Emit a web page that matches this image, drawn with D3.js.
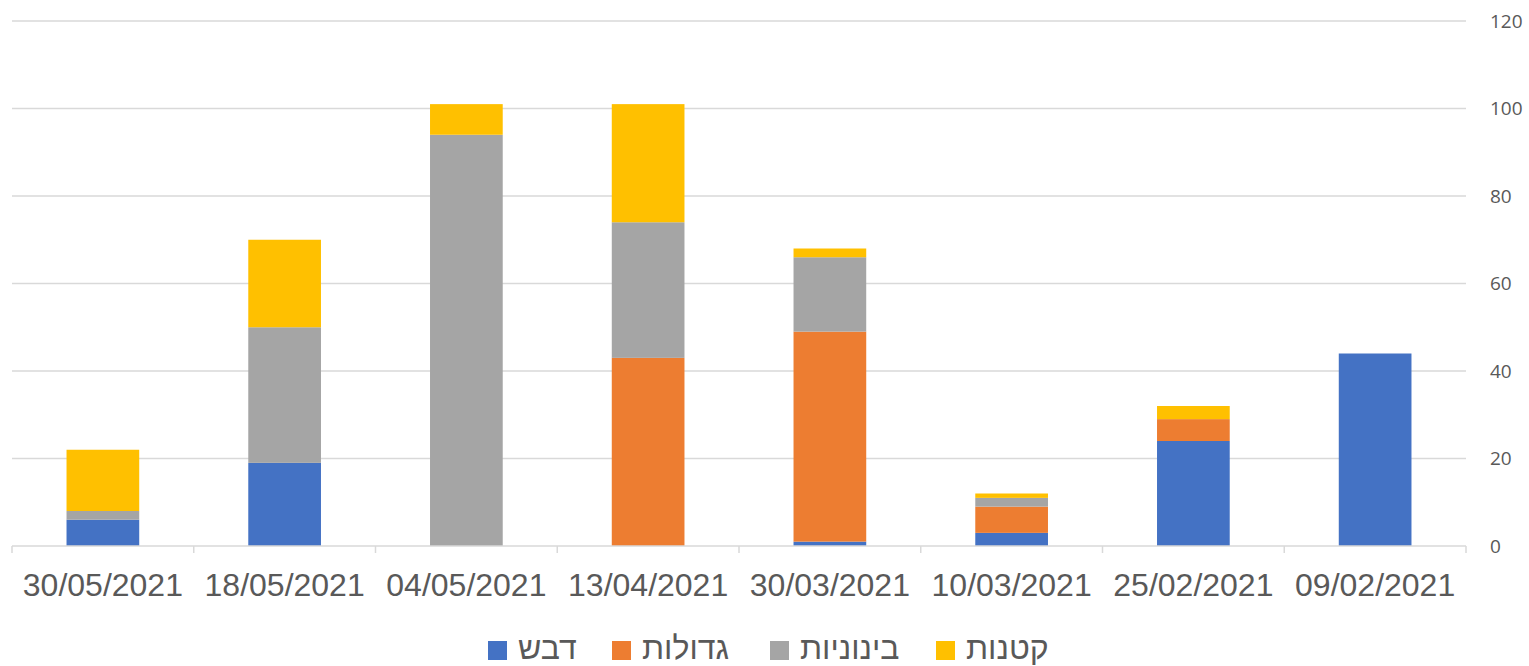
<!DOCTYPE html>
<html>
<head>
<meta charset="utf-8">
<script src="https://cdn.jsdelivr.net/npm/d3@7"></script>
<style>
  body { margin: 0; background: #fff; }
</style>
</head>
<body>
<div id="chart"></div>
<script>
// categories as drawn left to right
var dates = ["30/05/2021", "18/05/2021", "04/05/2021", "13/04/2021", "30/03/2021", "10/03/2021", "25/02/2021", "09/02/2021"];
var seriesNames = ["דבש", "גדולות", "בינוניות", "קטנות"];
var seriesColors = ["#4472c4", "#ed7d31", "#a5a5a5", "#ffc000"];

var honey = [6, 19, 0, 0, 1, 3, 24, 44];
var large = [0, 0, 0, 43, 48, 6, 5, 0];
var medium = [2, 31, 94, 31, 17, 2, 0, 0];
var small = [14, 20, 7, 27, 2, 1, 3, 0];

var yTicks = [0, 20, 40, 60, 80, 100, 120];

var width = 1529, height = 666;
var margin = { top: 21, right: 63, bottom: 120, left: 12 };
var innerW = width - margin.left - margin.right;
var innerH = height - margin.top - margin.bottom;

var rows = dates.map(function(d, i) {
    var r = { date: d };
    r[seriesNames[0]] = honey[i];
    r[seriesNames[1]] = large[i];
    r[seriesNames[2]] = medium[i];
    r[seriesNames[3]] = small[i];
    return r;
});

var stacked = d3.stack().keys(seriesNames)(rows);

var x = d3.scaleBand().domain(dates).range([0, innerW]).paddingInner(0.6).paddingOuter(0.3);
var xOuter = d3.scaleBand().domain(dates).range([0, innerW]);
var y = d3.scaleLinear().domain([0, 120]).range([innerH, 0]);
var color = d3.scaleOrdinal().domain(seriesNames).range(seriesColors);

var svg = d3.select("#chart").append("svg")
    .attr("width", width)
    .attr("height", height);

var g = svg.append("g").attr("transform", "translate(" + margin.left + "," + margin.top + ")");

// gridlines
g.append("g")
    .selectAll("line")
    .data(yTicks.filter(function(t) { return t > 0; }))
    .enter().append("line")
    .attr("x1", 0).attr("x2", innerW)
    .attr("y1", function(d) { return y(d); })
    .attr("y2", function(d) { return y(d); })
    .attr("stroke", "#d9d9d9")
    .attr("stroke-width", 1.5);

// bars
g.append("g")
    .selectAll("g")
    .data(stacked)
    .enter().append("g")
    .attr("fill", function(d) { return color(d.key); })
    .selectAll("rect")
    .data(function(d) { return d; })
    .enter().append("rect")
    .attr("x", function(d) { return x(d.data.date); })
    .attr("width", x.bandwidth())
    .attr("y", function(d) { return y(d[1]); })
    .attr("height", function(d) { return y(d[0]) - y(d[1]); });

// x axis
var xAxis = g.append("g")
    .attr("transform", "translate(0," + innerH + ")");
xAxis.append("line")
    .attr("x1", 0).attr("x2", innerW)
    .attr("stroke", "#d9d9d9").attr("stroke-width", 1.5);
xAxis.selectAll("line.tick")
    .data(d3.range(dates.length + 1))
    .enter().append("line")
    .attr("class", "tick")
    .attr("x1", function(i) { return i * xOuter.step(); })
    .attr("x2", function(i) { return i * xOuter.step(); })
    .attr("y1", 0).attr("y2", 7)
    .attr("stroke", "#d9d9d9").attr("stroke-width", 1.5);
xAxis.selectAll("text")
    .data(dates)
    .enter().append("text")
    .attr("x", function(d) { return xOuter(d) + xOuter.bandwidth() / 2; })
    .attr("y", 50)
    .attr("text-anchor", "middle")
    .attr("font-family", "'Liberation Sans', Arial, sans-serif")
    .attr("font-size", 32)
    .attr("fill", "#595959")
    .text(function(d) { return d; });

// y axis on the right
var yAxis = g.append("g")
    .attr("transform", "translate(" + innerW + ",0)")
    .call(d3.axisRight(y).tickValues(yTicks).tickSize(0).tickPadding(24));
yAxis.select(".domain").remove();
yAxis.selectAll("text")
    .attr("font-family", "'Open Sans', sans-serif")
    .attr("font-size", 19)
    .attr("fill", "#595959");

// legend
var legendItems = [
    { name: seriesNames[0], x: 488 },
    { name: seriesNames[1], x: 612 },
    { name: seriesNames[2], x: 770 },
    { name: seriesNames[3], x: 936 }
];
var legend = svg.append("g");
var li = legend.selectAll("g")
    .data(legendItems)
    .enter().append("g")
    .attr("transform", function(d) { return "translate(" + d.x + ",641)"; });
li.append("rect")
    .attr("width", 19).attr("height", 19)
    .attr("fill", function(d) { return color(d.name); });
li.append("text")
    .attr("x", 30)
    .attr("y", 18)
    .attr("font-family", "'Liberation Sans', Arial, sans-serif")
    .attr("font-size", 32)
    .attr("fill", "#595959")
    .text(function(d) { return d.name; });
</script>
</body>
</html>
